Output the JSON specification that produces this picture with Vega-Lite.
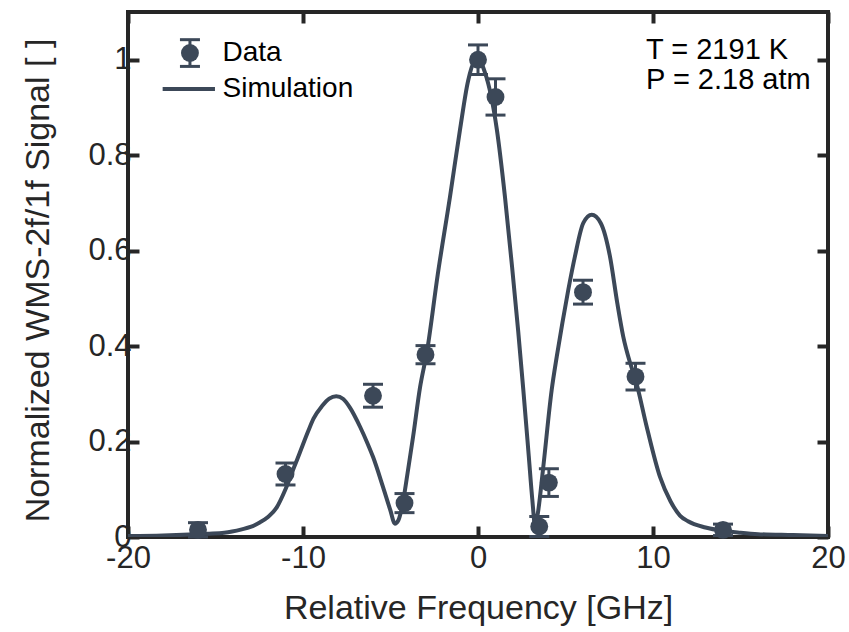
{
  "$schema": "https://vega.github.io/schema/vega-lite/v6.json",
  "width": 700,
  "height": 525,
  "autosize": "none",
  "padding": {"left": 128, "top": 12, "right": 21, "bottom": 95},
  "background": "white",
  "config": {
    "view": {"stroke": "#262626", "strokeWidth": 4},
    "font": "Liberation Sans"
  },
  "datasets": {
    "sim": [
      {"x": -20, "y": 0.002}, {"x": -18, "y": 0.003}, {"x": -16.5, "y": 0.005}, {"x": -15.5, "y": 0.007},
      {"x": -14.5, "y": 0.009}, {"x": -13.5, "y": 0.016}, {"x": -13, "y": 0.021}, {"x": -12.5, "y": 0.03},
      {"x": -12, "y": 0.042}, {"x": -11.5, "y": 0.062}, {"x": -11, "y": 0.1}, {"x": -10.5, "y": 0.147},
      {"x": -10.2, "y": 0.175}, {"x": -9.7, "y": 0.222}, {"x": -9.4, "y": 0.248}, {"x": -8.9, "y": 0.275},
      {"x": -8.5, "y": 0.29}, {"x": -8.1, "y": 0.295}, {"x": -7.7, "y": 0.289}, {"x": -7.3, "y": 0.27},
      {"x": -6.74, "y": 0.231}, {"x": -6.3, "y": 0.195}, {"x": -6.0, "y": 0.168}, {"x": -5.43, "y": 0.105},
      {"x": -5.0, "y": 0.055}, {"x": -4.75, "y": 0.028}, {"x": -4.55, "y": 0.035}, {"x": -4.27, "y": 0.077},
      {"x": -4.0, "y": 0.14}, {"x": -3.71, "y": 0.21}, {"x": -3.31, "y": 0.314}, {"x": -2.91, "y": 0.39},
      {"x": -2.3, "y": 0.55}, {"x": -1.6, "y": 0.713}, {"x": -1.03, "y": 0.853}, {"x": -0.57, "y": 0.955},
      {"x": -0.25, "y": 0.993}, {"x": 0.05, "y": 0.998}, {"x": 0.4, "y": 0.973}, {"x": 1.08, "y": 0.853},
      {"x": 1.54, "y": 0.713}, {"x": 1.95, "y": 0.565}, {"x": 2.3, "y": 0.43}, {"x": 2.59, "y": 0.308},
      {"x": 2.9, "y": 0.17}, {"x": 3.1, "y": 0.08}, {"x": 3.26, "y": 0.025}, {"x": 3.42, "y": 0.05},
      {"x": 3.71, "y": 0.14}, {"x": 4.21, "y": 0.308}, {"x": 4.5, "y": 0.378}, {"x": 4.82, "y": 0.448},
      {"x": 5.16, "y": 0.518}, {"x": 5.54, "y": 0.588}, {"x": 6.02, "y": 0.658}, {"x": 6.5, "y": 0.675},
      {"x": 7.01, "y": 0.658}, {"x": 7.54, "y": 0.588}, {"x": 7.96, "y": 0.49}, {"x": 8.3, "y": 0.42},
      {"x": 8.69, "y": 0.365}, {"x": 9.0, "y": 0.33}, {"x": 9.64, "y": 0.231}, {"x": 10.4, "y": 0.126},
      {"x": 11, "y": 0.075}, {"x": 11.54, "y": 0.045}, {"x": 12, "y": 0.033}, {"x": 13, "y": 0.02},
      {"x": 14, "y": 0.013}, {"x": 15, "y": 0.009}, {"x": 16, "y": 0.006}, {"x": 18, "y": 0.004},
      {"x": 20, "y": 0.002}
    ],
    "pts": [
      {"x": -16, "y": 0.015, "err": 0.015},
      {"x": -11, "y": 0.132, "err": 0.023},
      {"x": -6, "y": 0.296, "err": 0.024},
      {"x": -4.2, "y": 0.071, "err": 0.02},
      {"x": -3, "y": 0.382, "err": 0.019},
      {"x": 0, "y": 1.0, "err": 0.031},
      {"x": 1, "y": 0.922, "err": 0.038},
      {"x": 3.5, "y": 0.022, "err": 0.021},
      {"x": 4.05, "y": 0.114, "err": 0.029},
      {"x": 6, "y": 0.513, "err": 0.025},
      {"x": 9, "y": 0.336, "err": 0.028},
      {"x": 14, "y": 0.015, "err": 0.012}
    ],
    "legpt": [{"x": -16.46, "y": 1.014, "err": 0.028}],
    "legline": [{"x": -18.02, "y": 0.9386}, {"x": -15.03, "y": 0.9386}],
    "legtext": [
      {"x": -14.6, "y": 1.014, "label": "Data"},
      {"x": -14.6, "y": 0.9386, "label": "Simulation"}
    ],
    "anno": [
      {"x": 9.6, "y": 1.021, "label": "T = 2191 K"},
      {"x": 9.6, "y": 0.957, "label": "P = 2.18 atm"}
    ]
  },
  "resolve": {"axis": {"x": "independent", "y": "independent"}},
  "layer": [
    {
      "data": {"name": "sim"},
      "mark": {"type": "line", "color": "#3c4858", "strokeWidth": 4, "clip": true, "interpolate": "monotone"},
      "encoding": {
        "x": {
          "field": "x", "type": "quantitative",
          "scale": {"domain": [-20, 20], "nice": false, "zero": false},
          "axis": {
            "orient": "bottom", "values": [-20, -10, 0, 10, 20], "domain": false, "grid": false,
            "tickSize": -11, "tickWidth": 4, "tickColor": "#262626",
            "labelFont": "Liberation Sans", "labelFontSize": 31, "labelColor": "#262626",
            "labelPadding": 17, "labelFlush": false, "labelOverlap": false,
            "labelExpr": "'' + datum.value",
            "title": "Relative Frequency [GHz]", "titleFont": "Liberation Sans", "titleFontSize": 34,
            "titleFontWeight": "normal", "titleColor": "#262626",
            "titleX": 350, "titleY": 81, "titleBaseline": "alphabetic", "titleAlign": "center"
          }
        },
        "y": {
          "field": "y", "type": "quantitative",
          "scale": {"domain": [0, 1.1], "nice": false},
          "axis": {
            "orient": "left", "values": [0, 0.2, 0.4, 0.6, 0.8, 1], "domain": false, "grid": false,
            "tickSize": -11, "tickWidth": 4, "tickColor": "#262626",
            "labelFont": "Liberation Sans", "labelFontSize": 31, "labelColor": "#262626",
            "labelPadding": 8, "labelFlush": false, "labelOverlap": false,
            "labelExpr": "'' + datum.value",
            "title": "Normalized WMS-2f/1f Signal [ ]", "titleFont": "Liberation Sans", "titleFontSize": 34,
            "titleFontWeight": "normal", "titleColor": "#262626",
            "titleX": -90, "titleY": 268, "titleBaseline": "middle", "titleAlign": "center", "titleAngle": -90
          }
        }
      }
    },
    {
      "data": {"name": "pts"},
      "mark": {"type": "errorbar", "color": "#3c4858", "opacity": 1, "ticks": {"size": 20, "thickness": 3, "color": "#3c4858", "opacity": 1}, "rule": {"strokeWidth": 3, "opacity": 1}},
      "encoding": {
        "x": {"field": "x", "type": "quantitative", "axis": null},
        "y": {"field": "y", "type": "quantitative", "axis": null},
        "yError": {"field": "err"}
      }
    },
    {
      "data": {"name": "pts"},
      "mark": {"type": "point", "shape": "circle", "filled": true, "opacity": 1, "size": 320, "color": "#3c4858"},
      "encoding": {
        "x": {
          "field": "x", "type": "quantitative",
          "axis": {"orient": "top", "values": [-20, -10, 0, 10, 20], "domain": false, "grid": false, "labels": false, "title": null,
                   "tickSize": -11, "tickWidth": 4, "tickColor": "#262626"}
        },
        "y": {
          "field": "y", "type": "quantitative",
          "axis": {"orient": "right", "values": [0, 0.2, 0.4, 0.6, 0.8, 1], "domain": false, "grid": false, "labels": false, "title": null,
                   "tickSize": -11, "tickWidth": 4, "tickColor": "#262626"}
        }
      }
    },
    {
      "data": {"name": "legpt"},
      "mark": {"type": "errorbar", "color": "#3c4858", "opacity": 1, "ticks": {"size": 20, "thickness": 3, "color": "#3c4858", "opacity": 1}, "rule": {"strokeWidth": 3, "opacity": 1}},
      "encoding": {
        "x": {"field": "x", "type": "quantitative", "axis": null},
        "y": {"field": "y", "type": "quantitative", "axis": null},
        "yError": {"field": "err"}
      }
    },
    {
      "data": {"name": "legpt"},
      "mark": {"type": "point", "shape": "circle", "filled": true, "opacity": 1, "size": 320, "color": "#3c4858"},
      "encoding": {
        "x": {"field": "x", "type": "quantitative", "axis": null},
        "y": {"field": "y", "type": "quantitative", "axis": null}
      }
    },
    {
      "data": {"name": "legline"},
      "mark": {"type": "line", "color": "#3c4858", "strokeWidth": 4},
      "encoding": {
        "x": {"field": "x", "type": "quantitative", "axis": null},
        "y": {"field": "y", "type": "quantitative", "axis": null}
      }
    },
    {
      "data": {"name": "legtext"},
      "mark": {"type": "text", "align": "left", "baseline": "middle", "font": "Liberation Sans", "fontSize": 28, "color": "#000000"},
      "encoding": {
        "x": {"field": "x", "type": "quantitative", "axis": null},
        "y": {"field": "y", "type": "quantitative", "axis": null},
        "text": {"field": "label"}
      }
    },
    {
      "data": {"name": "anno"},
      "mark": {"type": "text", "align": "left", "baseline": "middle", "font": "Liberation Sans", "fontSize": 29, "color": "#000000"},
      "encoding": {
        "x": {"field": "x", "type": "quantitative", "axis": null},
        "y": {"field": "y", "type": "quantitative", "axis": null},
        "text": {"field": "label"}
      }
    }
  ]
}
